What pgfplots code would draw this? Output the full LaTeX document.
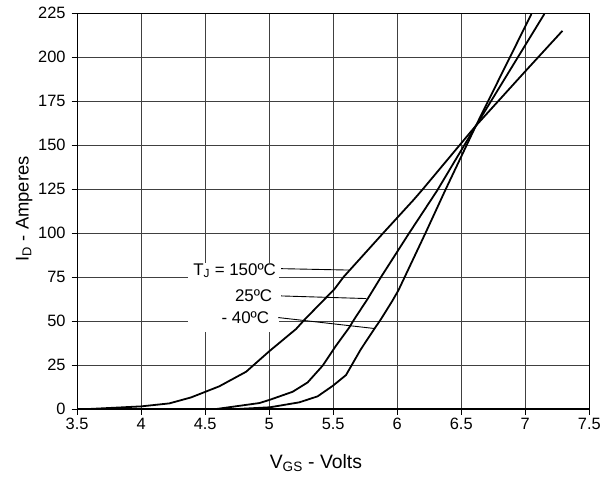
\documentclass[border=0pt]{standalone}
\usepackage{fontspec}
\setmainfont{Liberation Sans}
\usepackage{pgfplots}
\pgfplotsset{compat=1.18}
\usetikzlibrary{calc}

\pgfplotstableread{
v i
3.59 0
4.00 1.5
4.22 3.2
4.39 6.6
4.61 12.9
4.82 21.2
5.00 32.8
5.21 45.5
5.28 51.1
5.51 68.2
5.58 75
5.89 100
6.13 119.1
6.20 125
6.61 160.7
7.00 192
7.29 215
}\hot
\pgfplotstableread{
v i
4.586 0
4.924 3.4
5.007 5.3
5.183 9.8
5.30 15.1
5.417 24.6
5.521 35.9
5.625 46.3
5.665 51.1
5.767 62.4
5.873 75
6.093 100
6.31 124
6.612 160.7
7.149 224.6
}\room
\pgfplotstableread{
v i
4.75 0
5.007 1.0
5.235 3.8
5.378 7.2
5.497 13.2
5.60 19.3
5.716 34
5.82 45.4
5.873 51.1
5.962 61.5
6.01 67.6
6.223 100.4
6.379 125
6.612 160.7
7.048 224.6
}\cold

\begin{document}
\begin{tikzpicture}
\begin{axis}[
    scale only axis,
    width=513.4bp, height=396.7bp,
    xmin=3.5, xmax=7.5, ymin=0, ymax=225,
    xtick={3.5,4,...,7.5}, ytick={0,25,...,225},
    grid=major,
    grid style={line width=0.8bp, black!75},
    axis line style={line width=1.1bp, black},
    tick align=outside,
    major tick length=5.5bp,
    tick style={line width=0.9bp, black},
    xtick pos=bottom, ytick pos=left,
    /pgf/number format/assume math mode=true,
    tick label style={font=\fontsize{16.5}{19}\selectfont},
    yticklabel style={xshift=-2.6bp},
    xticklabel style={yshift=-0.5bp},
    xlabel={V\textsubscript{GS} - Volts},
    ylabel={I\textsubscript{D} - Amperes},
    xlabel style={font=\fontsize{19.5}{22}\selectfont, at={(rel axis cs:0.4663,0)}, anchor=north, inner sep=0pt, yshift=-45bp},
    ylabel style={font=\fontsize{18.5}{22}\selectfont, at={(rel axis cs:0,0.506)}, anchor=center, inner sep=0pt, yshift=53.1bp},
    clip=true,
  ]
  % white patch behind the temperature labels
  \fill[white] (axis cs:4.364,43.7) rectangle (axis cs:5.08,83.3);

  \addplot[black, line width=1.8bp] table[x=v, y=i] {\hot};
  \addplot[black, line width=1.8bp] table[x=v, y=i] {\room};
  \addplot[black, line width=1.8bp] table[x=v, y=i] {\cold};

  % leader lines
  \draw[black, line width=0.9bp] (axis cs:5.093,79.8) -- (axis cs:5.625,79.0);
  \draw[black, line width=0.9bp] (axis cs:5.093,64.3) -- (axis cs:5.759,62.8);
  \draw[black, line width=0.9bp] (axis cs:5.071,52.0) -- (axis cs:5.819,45.8);

  \node[anchor=east, inner sep=0pt, font=\fontsize{17}{20}\selectfont] at (axis cs:5.054,78.6) {T\textsubscript{J} = 150ºC};
  \node[anchor=east, inner sep=0pt, font=\fontsize{17}{20}\selectfont] at (axis cs:5.025,64.4) {25ºC};
  \node[anchor=east, inner sep=0pt, font=\fontsize{17}{20}\selectfont] at (axis cs:5.001,52.2) {- 40ºC};
\end{axis}
\path ($(current axis.south west)+(-77.3bp,-71bp)$) rectangle ($(current axis.north east)+(13.3bp,13.3bp)$);
\end{tikzpicture}
\end{document}
